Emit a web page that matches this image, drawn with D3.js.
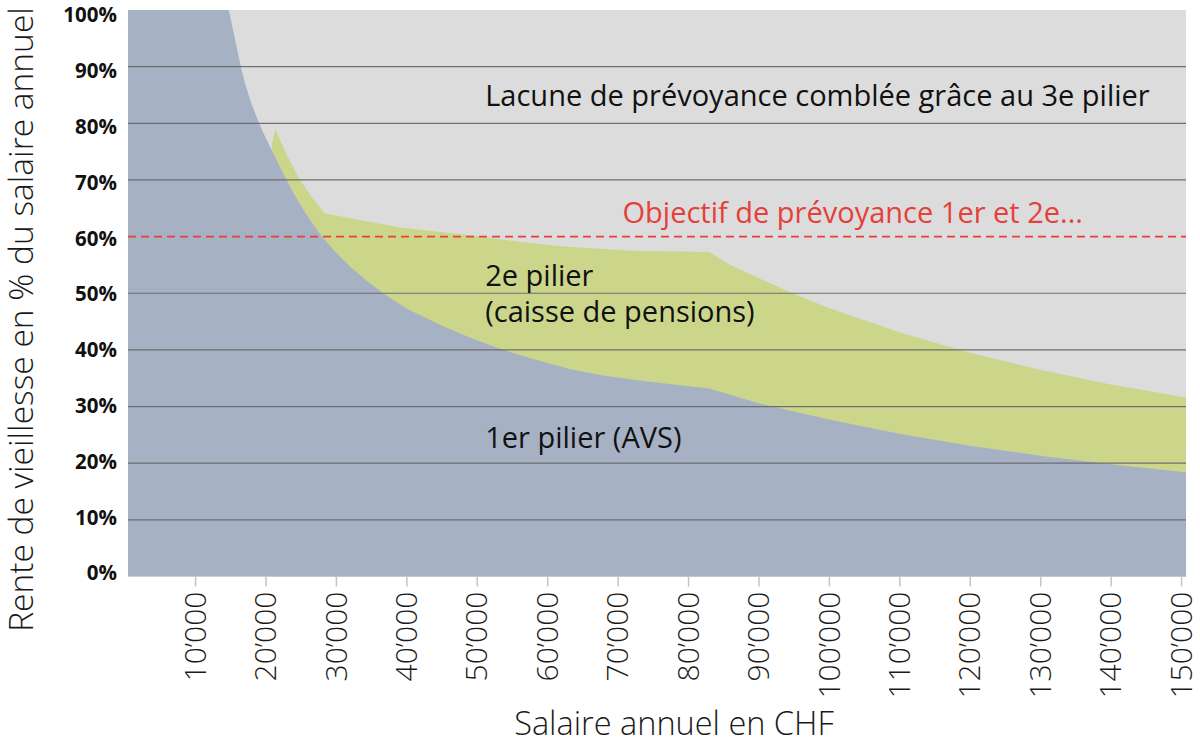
<!DOCTYPE html>
<html>
<head>
<meta charset="utf-8">
<script src="https://cdn.jsdelivr.net/npm/d3@7"></script>
<style>
  body { margin: 0; background: #fff; }
  svg { display: block; }
  text { font-family: "Open Sans", "Noto Sans", sans-serif; }
</style>
</head>
<body>
<svg id="chart"></svg>
<script>
// 1er pilier (AVS), rente en % du salaire
const salaire1 = [480, 14800, 16500, 17100, 18000, 19100, 20000, 21000, 22000, 23000, 24200, 25500,
  26800, 28000, 30000, 32000, 34300, 36700, 40000, 45000, 49000, 53300, 58000, 63300, 68000,
  73000, 78000, 83000, 90000, 100000, 110000, 120000, 130000, 140000, 150700];
const pilier1 = [100, 100, 90, 87, 83.5, 80, 77.5, 75, 72.4, 70, 67.2, 64.5,
  62.1, 60, 57.2, 54.7, 52.3, 50, 47.3, 44.3, 42.2, 40.2, 38.4, 36.6, 35.5,
  34.6, 33.9, 33.2, 30.6, 27.7, 25.2, 23.1, 21.3, 19.8, 18.4];

// 1er + 2e pilier (haut de la surface verte)
const salaire2 = [20900, 21400, 23000, 24900, 26600, 28400, 33000, 39100, 45000, 50500, 56000,
  62800, 72200, 83000, 86000, 90000, 95000, 100000, 110000, 120000, 130000, 140000, 150700];
const pilier12 = [76.3, 79, 74.5, 70, 66.9, 64.1, 63, 61.6, 60.8, 60, 59.1,
  58.2, 57.5, 57.3, 55, 52.7, 49.9, 47.4, 43.1, 39.5, 36.5, 33.9, 31.6];

const yTicks = [0, 10, 20, 30, 40, 50, 60, 70, 80, 90, 100];
const xTicks = [10000, 20000, 30000, 40000, 50000, 60000, 70000, 80000,
  90000, 100000, 110000, 120000, 130000, 140000, 150000];
const objectif = 60;

class RenteChart {
  constructor(option) {
    let o = {
      el: null,
      width: 1200,
      height: 747,
      margin: { top: 10, left: 128, right: 14, bottom: 170.5 },
      xDomain: [480, 150700],
      colors: { bg: "#dcdcdc", avs: "#a7b1c4", lpp: "#ccd68b", grid: "#6e6e6e", goal: "#e5403a" }
    };
    Object.assign(this, o, option);
    this.init();
  }

  init() {
    this.svg = d3.select(this.el)
      .attr("width", this.width)
      .attr("height", this.height);
    this.svg.html("");
    this.w = this.width - this.margin.left - this.margin.right;
    this.h = this.height - this.margin.top - this.margin.bottom;
    this.group = this.svg.append("g")
      .attr("transform", `translate(${this.margin.left},${this.margin.top})`);

    this.xScale = d3.scaleLinear().domain(this.xDomain).range([0, this.w]);
    this.yScale = d3.scaleLinear().domain([0, 100]).range([this.h, 0]);
    // les étiquettes de l'axe y sont un peu resserrées par rapport aux lignes
    this.yLabelScale = d3.scaleLinear().domain([0, 100]).range([this.h - 4, 4.5]);

    this.addAreas();
    this.addGrid();
    this.addXAxis();
    this.addYAxis();
    this.addLabels();
  }

  addAreas() {
    this.group.append("rect")
      .attr("width", this.w)
      .attr("height", this.h)
      .attr("fill", this.colors.bg);

    const area = d3.area()
      .x(d => this.xScale(d[0]))
      .y0(this.yScale(0))
      .y1(d => this.yScale(d[1]));

    // vert d'abord, le bleu le recouvre en dessous
    this.group.append("path")
      .datum(d3.zip(salaire2, pilier12))
      .attr("class", "lpp")
      .attr("fill", this.colors.lpp)
      .attr("d", area);

    this.group.append("path")
      .datum(d3.zip(salaire1, pilier1))
      .attr("class", "avs")
      .attr("fill", this.colors.avs)
      .attr("d", area);
  }

  addGrid() {
    this.group.append("g")
      .attr("class", "grid")
      .selectAll("line")
      .data(yTicks.filter(d => d > 0 && d < 100 && d !== objectif))
      .enter()
      .append("line")
      .attr("x1", 0)
      .attr("x2", this.w)
      .attr("y1", d => this.yScale(d))
      .attr("y2", d => this.yScale(d))
      .attr("stroke", this.colors.grid)
      .attr("stroke-width", 1.2);

    this.group.append("line")
      .attr("class", "objectif")
      .attr("x1", 0)
      .attr("x2", this.w)
      .attr("y1", this.yScale(objectif))
      .attr("y2", this.yScale(objectif))
      .attr("stroke", this.colors.goal)
      .attr("stroke-width", 1.6)
      .attr("stroke-dasharray", "8,5");
  }

  addXAxis() {
    const fmt = d => d3.format(",")(d).replace(/,/g, "\u2019");
    const axis = d3.axisBottom(this.xScale)
      .tickValues(xTicks)
      .tickSize(10)
      .tickFormat(fmt);

    const g = this.group.append("g")
      .attr("class", "xAxis")
      .attr("transform", `translate(0,${this.h})`)
      .call(axis);
    g.select(".domain").remove();
    g.selectAll(".tick line")
      .attr("stroke", "#c4c4c4")
      .attr("stroke-width", 1.5);
    g.selectAll(".tick text")
      .attr("transform", "rotate(-90)")
      .attr("text-anchor", "end")
      .attr("x", -15)
      .attr("y", 0)
      .attr("dy", "0.34em")
      .attr("fill", "#1a1a1a")
      .attr("font-size", 30)
      .attr("font-weight", 300);

    this.group.append("text")
      .attr("x", this.xScale(78000))
      .attr("y", this.h + 158)
      .attr("text-anchor", "middle")
      .attr("font-size", 32.5)
      .attr("font-weight", 300)
      .attr("fill", "#1a1a1a")
      .text("Salaire annuel en CHF");
  }

  addYAxis() {
    const g = this.group.append("g")
      .attr("class", "yAxis")
      .call(d3.axisLeft(this.yLabelScale)
        .tickValues(yTicks)
        .tickSize(0)
        .tickPadding(11)
        .tickFormat(d => d + "%"));
    g.select(".domain").remove();
    g.selectAll(".tick text")
      .attr("dy", "0.36em")
      .attr("fill", "#111")
      .attr("font-size", 20.5)
      .attr("font-weight", 700);

    this.svg.append("text")
      .attr("transform", "translate(33,319.5) rotate(-90)")
      .attr("text-anchor", "middle")
      .attr("font-size", 33.5)
      .attr("font-weight", 300)
      .attr("fill", "#1a1a1a")
      .text("Rente de vieillesse en % du salaire annuel");
  }

  addLabels() {
    const labels = [
      { text: "Lacune de prévoyance comblée grâce au 3e pilier", s: 51200, v: 83, color: "#111" },
      { text: "Objectif de prévoyance 1er et 2e...", s: 70700, v: 62.4, color: this.colors.goal },
      { text: "2e pilier", s: 51200, v: 51.2, color: "#111" },
      { text: "(caisse de pensions)", s: 51200, v: 45, color: "#111" },
      { text: "1er pilier (AVS)", s: 51200, v: 22.7, color: "#111" }
    ];
    this.group.append("g")
      .attr("class", "labels")
      .selectAll("text")
      .data(labels)
      .enter()
      .append("text")
      .attr("x", d => this.xScale(d.s))
      .attr("y", d => this.yScale(d.v))
      .attr("fill", d => d.color)
      .attr("font-size", 29)
      .text(d => d.text);
  }
}

new RenteChart({ el: "#chart" });
</script>
</body>
</html>
